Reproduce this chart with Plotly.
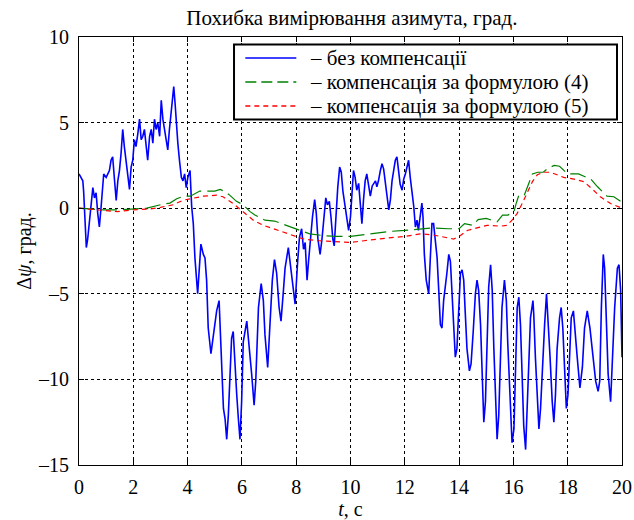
import plotly.graph_objects as go

# ---- data ----
t_blue = [0.0, 0.075, 0.14, 0.17, 0.22, 0.27, 0.32, 0.38, 0.44, 0.51, 0.57, 0.63, 0.69, 0.75, 0.81, 0.91,
          1.0, 1.06, 1.12, 1.18, 1.24, 1.31, 1.37, 1.43, 1.49, 1.55, 1.61, 1.67, 1.74, 1.8, 1.86, 1.92, 1.98,
          2.04, 2.1, 2.17, 2.23, 2.29, 2.35, 2.41, 2.47, 2.53, 2.6, 2.66, 2.72, 2.78, 2.84, 2.9, 2.97,
          3.03, 3.09, 3.15, 3.21, 3.27, 3.33, 3.4, 3.46, 3.49, 3.54, 3.59, 3.64, 3.7, 3.77, 3.83, 3.89, 3.95,
          4.01, 4.09, 4.15, 4.21, 4.27, 4.37, 4.42, 4.49, 4.58, 4.64, 4.70, 4.76, 4.86, 4.95,
          5.07, 5.16, 5.23, 5.32, 5.38, 5.44, 5.50, 5.56, 5.62, 5.68, 5.74, 5.81, 5.87, 5.93, 5.99,
          6.05, 6.18, 6.26, 6.36, 6.45, 6.51, 6.61, 6.71, 6.79, 6.85, 6.95,
          7.04, 7.12, 7.20, 7.28, 7.37, 7.44, 7.53, 7.59, 7.71, 7.81, 7.90, 7.96,
          8.05, 8.12, 8.2, 8.27, 8.33, 8.4, 8.46, 8.53, 8.6, 8.68, 8.74, 8.8, 8.88, 8.95,
          9.02, 9.09, 9.15, 9.22, 9.28, 9.35, 9.4, 9.47, 9.53, 9.6, 9.66, 9.72, 9.8, 9.87, 9.93,
          10.0, 10.05, 10.11, 10.17, 10.23, 10.3, 10.36, 10.42, 10.48, 10.54, 10.6, 10.67, 10.73, 10.8, 10.85, 10.92, 10.97,
          11.03, 11.1, 11.16, 11.22, 11.28, 11.34, 11.41, 11.47, 11.53, 11.6, 11.65, 11.71, 11.77, 11.83, 11.9, 11.96,
          12.02, 12.08, 12.14, 12.2, 12.27, 12.33, 12.39, 12.45, 12.5, 12.57, 12.63, 12.67, 12.72, 12.79, 12.88, 12.94,
          13.0, 13.06, 13.12, 13.19, 13.25, 13.31, 13.37, 13.43, 13.55, 13.62, 13.68, 13.74, 13.8, 13.86, 13.92, 13.99,
          14.05, 14.11, 14.17, 14.23, 14.29, 14.38, 14.44, 14.52, 14.6, 14.66, 14.72, 14.79, 14.85, 14.91, 14.97,
          15.03, 15.09, 15.16, 15.22, 15.28, 15.34, 15.4, 15.46, 15.52, 15.58, 15.67, 15.74, 15.79, 15.87, 15.95,
          16.02, 16.08, 16.14, 16.2, 16.26, 16.32, 16.38, 16.45, 16.51, 16.57, 16.63, 16.72, 16.75, 16.81, 16.88, 16.94,
          17.0, 17.06, 17.15, 17.22, 17.27, 17.35, 17.43, 17.49, 17.55, 17.61, 17.7, 17.76, 17.82, 17.89, 17.95,
          18.01, 18.07, 18.13, 18.21, 18.27, 18.35, 18.45, 18.54, 18.62, 18.72, 18.82, 18.91, 18.97,
          19.03, 19.12, 19.18, 19.24, 19.31, 19.36, 19.42, 19.49, 19.58, 19.64, 19.73, 19.83, 19.89, 19.95, 20.0]
v_blue = [2.0, 1.8, 1.6, 1.0, -0.5, -2.3, -1.8, -0.9, 0.2, 1.2, 0.6, 0.9, -0.3, -1.1, 0.0, 2.0,
          1.8, 2.0, 2.2, 2.8, 3.0, 1.6, 0.45, 1.6, 2.2, 3.2, 4.6, 3.6, 2.6, 1.6, 1.1, 2.4, 2.8,
          4.0, 3.6, 4.4, 5.2, 4.0, 4.2, 4.6, 3.8, 2.8, 4.2, 4.6, 3.8, 5.2, 4.6, 5.0, 4.2,
          6.3, 5.2, 4.6, 4.2, 3.4, 4.6, 5.9, 6.9, 7.1, 6.1, 4.8, 3.8, 2.8, 1.8, 1.6, 2.0, 1.2,
          1.8, 2.2, 0.1, -0.9, -2.9, -5.0, -3.6, -2.1, -2.7, -2.9, -4.2, -7.0, -8.5, -7.4,
          -6.0, -5.4, -8.2, -11.7, -12.3, -13.5, -12.1, -9.7, -7.6, -7.2, -9.3, -10.9, -12.3, -13.5, -11.3,
          -7.8, -6.6, -7.8, -9.7, -11.5, -10.1, -5.8, -4.4, -5.4, -7.4, -9.3,
          -6.8, -4.2, -3.0, -3.8, -5.8, -6.6, -4.8, -3.5, -2.3, -3.5, -4.6, -5.6,
          -3.2, -1.7, -1.2, -2.4, -2.0, -4.2, -3.0, -1.5, -0.5, 0.5, -0.3, -1.8, -2.7, -1.8,
          -0.6, 0.6, 0.2, 0.4, -0.5, -1.8, -2.2, -0.2, 1.2, 2.4, 2.1, 1.0, 0.1, -0.8, -1.3,
          -0.5, 0.7, 2.2, 1.8, 1.05, 1.45, 0.1, -0.9, 0.5, 1.6, 2.0, 1.3, 0.7, 1.3, 1.45, 1.6, 1.25,
          1.6, 2.2, 2.6, 2.3, 1.6, 0.9, -0.1, 0.5, 1.6, 2.3, 2.8, 3.0, 2.2, 1.4, 1.05, 1.7,
          2.0, 2.4, 2.8, 1.8, 0.9, 0.1, -1.1, -0.7, -1.3, -0.5, 0.3, -0.5, -2.7, -4.2, -5.0, -2.9,
          -0.9, -0.9, -1.9, -2.9, -4.8, -6.8, -7.0, -5.4, -3.8, -2.7, -3.1, -5.2, -7.4, -8.7, -8.2, -5.8,
          -3.8, -3.6, -4.2, -6.2, -8.2, -9.5, -9.1, -7.2, -5.0, -4.2, -4.8, -6.8, -9.7, -12.5, -11.3,
          -7.8, -4.6, -3.3, -4.8, -8.2, -11.3, -13.5, -12.1, -8.7, -5.8, -4.2, -5.4, -7.8, -11.3, -13.7,
          -12.9, -9.7, -5.8, -5.2, -6.8, -9.7, -12.7, -14.1, -11.7, -8.5, -6.4, -5.4, -6.2, -8.7, -10.9, -12.9,
          -11.7, -9.3, -6.8, -5.0, -6.2, -8.7, -11.3, -12.5, -10.9, -8.2, -6.4, -5.8, -7.0, -9.3, -11.7,
          -10.9, -8.2, -6.4, -6.0, -7.0, -8.7, -10.5, -9.3, -7.0, -6.0, -7.0, -8.2, -9.3,
          -10.1, -10.7, -10.1, -5.8, -2.7, -3.5, -6.4, -9.7, -11.3, -8.7, -5.8, -3.5, -3.3, -4.8, -8.7]

t_green = [0, 0.9, 1.5, 2.0, 2.5, 3.0, 3.35, 3.6, 3.84, 4.1, 4.45, 4.8, 5.0, 5.2, 5.4, 5.56, 5.8,
           6.05, 6.3, 6.48, 6.85, 7.2, 7.65, 8.02, 8.5, 9.0, 9.5, 10.0, 10.5, 11.0, 11.5, 12.0, 12.45,
           13.0, 13.6, 14.0, 14.2, 14.5, 14.7, 15.0, 15.4, 15.6, 15.8, 16.02, 16.1, 16.2, 16.4, 16.57,
           16.7, 16.9, 17.1, 17.25, 17.5, 17.7, 17.85, 18.0, 18.4, 18.6, 18.85, 19.1, 19.45, 19.7, 20.0]
v_green = [0, -0.1, -0.1, -0.05, 0.0, 0.2, 0.3, 0.55, 0.7, 0.7, 1.0, 1.0, 1.0, 1.1, 0.95, 0.75, 0.4,
           0.2, -0.2, -0.4, -0.7, -0.75, -1.0, -1.2, -1.5, -1.6, -1.65, -1.65, -1.55, -1.45, -1.35, -1.3, -1.25,
           -1.15, -1.2, -1.2, -0.9, -1.0, -0.67, -0.6, -0.8, -0.4, -0.4, -0.2, 0.27, 0.76, 0.76, 1.45,
           2.0, 2.1, 2.1, 2.3, 2.5, 2.45, 2.2, 2.0, 2.0, 1.85, 1.7, 1.25, 0.7, 0.67, 0.35]

t_red = [0, 0.9, 1.4, 2.0, 2.6, 3.0, 3.47, 3.84, 4.2, 4.58, 5.07, 5.3, 5.68, 6.05, 6.42, 6.79, 7.28,
         7.77, 8.27, 8.8, 9.5, 10.0, 10.5, 11.0, 11.5, 12.0, 12.57, 13.0, 13.43, 13.8, 14.05, 14.3, 14.66,
         15.03, 15.52, 15.77, 15.95, 16.14, 16.3, 16.5, 16.7, 16.88, 17.1, 17.37, 17.6, 17.85, 18.23,
         18.6, 18.95, 19.2, 19.58, 20.0]
v_red = [0, -0.15, -0.2, -0.1, -0.05, 0.05, 0.2, 0.47, 0.57, 0.7, 0.76, 0.67, 0.27, -0.2, -0.7, -1.0, -1.25,
         -1.5, -1.8, -1.9, -1.95, -2.0, -1.9, -1.8, -1.72, -1.65, -1.5, -1.55, -1.7, -1.8, -1.6, -1.3, -1.15,
         -1.0, -1.05, -1.0, -0.7, -0.3, 0.2, 0.86, 1.55, 1.95, 2.1, 2.1, 1.95, 1.8, 1.7,
         1.55, 1.05, 0.67, 0.27, 0.0]

names = ["– без компенсації", "– компенсація за формулою (4)", "– компенсація за формулою (5)"]
x_ticks = list(range(0, 21, 2))
y_ticks = [10, 5, 0, -5, -10, -15]

FONT = "Liberation Serif"
colors = ["#0000ff", "#008000", "#ff0000"]
dashes = ["solid", "16px,6px", "5px,4px"]
legend_dashes = ["solid", "11px,5px", "5px,4px"]
widths = [1.6, 1.2, 1.2]

fig = go.Figure()
for tx, vy, nm, c, d, w in zip([t_blue, t_green, t_red], [v_blue, v_green, v_red],
                               names, colors, dashes, widths):
    fig.add_trace(go.Scatter(x=tx, y=vy, mode="lines", name=nm,
                             line=dict(color=c, width=w, dash=d), showlegend=False))

# ---- legend box (MATLAB-style, drawn in paper coordinates) ----
box = dict(x0=0.2855, x1=0.9908, y0=0.8072, y1=0.9825)
row_y = [0.951, 0.8949, 0.8388]
sample_x = (0.3063, 0.4002)
text_x = 0.4235

shapes = [dict(type="rect", xref="paper", yref="paper", layer="above",
               fillcolor="white", line=dict(color="black", width=2), **box)]
annotations = []
for yy, nm, c, d, w in zip(row_y, names, colors, legend_dashes, widths):
    shapes.append(dict(type="line", xref="paper", yref="paper", layer="above",
                       x0=sample_x[0], x1=sample_x[1], y0=yy, y1=yy,
                       line=dict(color=c, width=max(w, 1.6), dash=d)))
    annotations.append(dict(text=nm, xref="paper", yref="paper", x=text_x, y=yy,
                            xanchor="left", yanchor="middle", showarrow=False, borderpad=0,
                            font=dict(family=FONT, size=21, color="black")))

axis_common = dict(showline=True, linecolor="black", linewidth=1, mirror="allticks",
                   ticks="inside", ticklen=5, tickcolor="black", automargin=False,
                   showgrid=True, gridcolor="black", griddash="3px,3px", gridwidth=1,
                   zeroline=False, tickfont=dict(family=FONT, size=20, color="black"))

fig.update_layout(
    width=634, height=520,
    margin=dict(l=79, r=12, t=37, b=55),
    paper_bgcolor="white", plot_bgcolor="white",
    font=dict(family=FONT, color="black"),
    title=dict(text="Похибка вимірювання азимута, град.", x=0.555, xanchor="center",
               y=0.966, yanchor="middle", font=dict(family=FONT, size=21, color="black")),
    xaxis=dict(range=[0, 20], tickvals=x_ticks, ticktext=[str(v) for v in x_ticks],
               ticklabelstandoff=4,
               title=dict(text="<i>t</i>, с", font=dict(family=FONT, size=20), standoff=4),
               **axis_common),
    yaxis=dict(range=[-15, 10], tickvals=y_ticks, ticktext=[str(v).replace("-", "–") for v in y_ticks],
               ticklabelstandoff=5,
               title=dict(text="Δ<i>ψ</i>, град.", font=dict(family=FONT, size=20), standoff=1),
               **axis_common),
    shapes=shapes,
    annotations=annotations,
    showlegend=False,
)

fig.write_html("out.html")
